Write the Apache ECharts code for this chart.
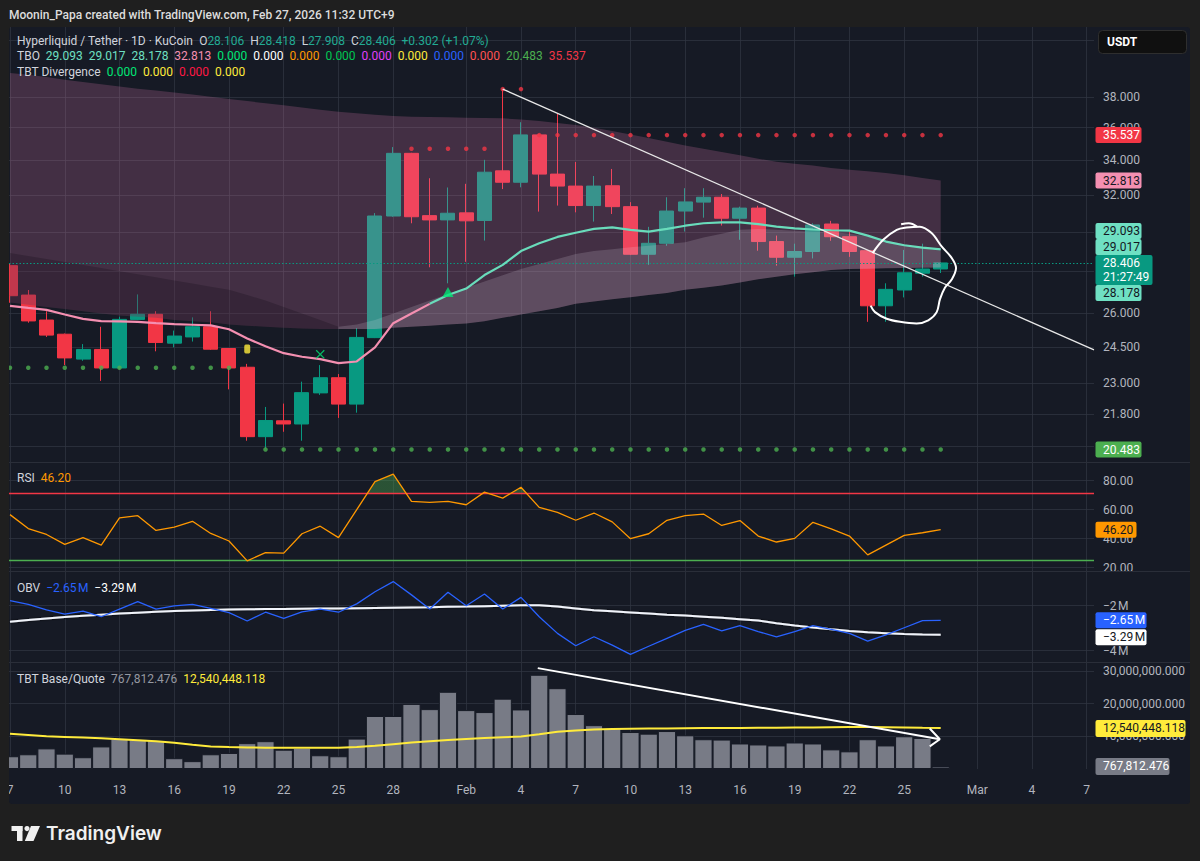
<!DOCTYPE html>
<html><head><meta charset="utf-8">
<script src="https://cdn.jsdelivr.net/npm/echarts@6/dist/echarts.min.js"></script>
<style>
html,body{margin:0;padding:0;background:#1f1f1f;width:1200px;height:861px;overflow:hidden;}
#panel{position:absolute;left:9px;top:27px;width:1181px;height:777px;background:#161a25;border-radius:3px;}
#chart{position:absolute;left:0;top:0;width:1200px;height:861px;}
</style></head><body>
<div id="panel"></div>
<div id="chart"></div>
<script>
// ---------- tick labels ----------
const xTickDays   = [0,3,6,9,12,15,18,21,25,28,31,34,37,40,43,46,49,53,56,59];
const xTickLabels = ['7','10','13','16','19','22','25','28','Feb','4','7','10','13','16','19','22','25','Mar','4','7'];
const priceGridTicks  = [42,38,36,34,32,30,28,26,24.5,23,21.8,20.6];
const priceLabelTicks = [38,36,34,32,26,24.5,23,21.8];
const rsiTicks    = [20,40,60,80];
const obvTicks    = [-2,-4];
const volTicks    = [10,20,30];

// ---------- candles (day 0 = Jan 7 ... day 51 = Feb 27) ----------
const open  = [28.27,26.85,25.70,25.07,24.00,24.41,23.63,25.73,25.96,24.68,24.95,25.40,24.45,23.66,20.95,21.54,21.42,22.62,23.23,22.18,24.92,30.84,34.42,30.86,30.63,31.01,30.60,33.38,32.72,35.55,33.19,32.50,31.41,32.52,31.35,28.84,29.40,31.11,31.60,31.87,30.72,31.27,29.49,28.69,28.98,30.41,29.74,29.02,26.35,27.09,27.90,28.106];
const close = [26.82,25.66,25.03,24.05,24.41,23.63,25.73,25.96,24.71,24.99,25.40,24.42,23.63,20.95,21.55,21.42,22.63,23.23,22.18,24.93,30.84,34.42,30.80,30.63,30.99,30.58,33.30,32.72,35.55,33.19,32.50,31.41,32.50,31.35,28.84,29.40,31.11,31.61,31.87,30.72,31.27,29.49,28.69,28.98,30.36,29.74,28.98,26.35,27.12,27.92,28.104,28.406];
const low   = [26.49,25.58,24.95,23.75,23.93,23.10,23.60,25.70,24.33,24.50,24.75,24.39,22.76,20.80,20.52,21.13,20.80,22.54,21.65,21.85,24.90,30.80,30.45,28.19,27.41,28.46,29.54,32.33,32.43,31.08,31.41,31.04,30.54,30.95,28.80,28.31,29.27,30.01,30.75,30.33,29.58,29.02,28.27,27.73,28.63,29.53,28.71,25.62,25.62,26.74,27.73,27.908];
const high  = [28.40,27.09,26.10,25.10,24.64,25.40,25.85,26.88,26.10,25.23,25.82,26.10,24.45,23.80,22.07,22.20,23.07,23.75,23.38,25.33,31.00,34.80,34.45,32.95,32.42,32.63,34.03,38.52,36.35,35.60,36.88,33.90,33.08,33.49,31.60,30.26,31.87,32.38,32.38,32.05,31.35,31.40,29.80,29.38,30.45,30.58,30.01,29.05,27.41,29.06,29.38,28.418];

// ---------- TBO lines ----------
const fastLine   = [26.35,26.25,26.16,25.95,25.75,25.65,25.64,25.62,25.56,25.52,25.49,25.46,25.29,24.88,24.55,24.25,24.10,24.00,23.83,23.90,24.50,25.56,26.00,26.44,26.85,27.16,27.81,28.31,29.00,29.40,29.73,29.95,30.15,30.23,30.10,30.01,30.15,30.32,30.45,30.50,30.50,30.40,30.27,30.18,30.12,30.08,30.06,29.80,29.49,29.30,29.18,29.093];
const mediumLine = [28.90,28.75,28.60,28.45,28.30,28.15,28.00,27.85,27.70,27.55,27.40,27.25,27.10,26.85,26.60,26.30,26.00,25.70,25.40,25.50,25.70,26.00,26.30,26.60,26.90,27.20,27.50,27.80,28.10,28.35,28.60,28.85,29.00,29.10,29.20,29.28,29.36,29.45,29.70,29.90,30.10,30.15,30.10,30.05,30.00,30.00,29.90,29.75,29.55,29.35,29.15,29.017];
const slowLine   = [26.50,26.40,26.30,26.20,26.10,26.00,25.90,25.85,25.80,25.70,25.65,25.60,25.50,25.45,25.40,25.35,25.32,25.30,25.30,25.30,25.30,25.35,25.40,25.45,25.50,25.55,25.65,25.80,25.95,26.10,26.25,26.45,26.55,26.65,26.75,26.85,26.95,27.10,27.20,27.30,27.45,27.60,27.73,27.85,27.95,28.06,28.10,28.12,28.14,28.15,28.17,28.178];
const longLine   = [39.63,39.50,39.35,39.15,39.00,38.85,38.70,38.55,38.42,38.30,38.16,38.00,37.86,37.72,37.58,37.45,37.30,37.16,37.03,36.93,36.83,36.75,36.70,36.68,36.66,36.64,36.62,36.60,36.52,36.42,36.30,36.18,36.00,35.80,35.57,35.35,35.13,34.90,34.70,34.50,34.30,34.10,33.91,33.80,33.70,33.55,33.45,33.35,33.25,33.12,32.97,32.813];
const resistanceDots = [null,null,null,null,null,null,null,null,null,null,null,null,null,null,null,null,null,null,null,null,null,null,34.70,34.70,34.70,34.70,34.70,38.52,38.52,35.537,35.537,35.537,35.537,35.537,35.537,35.537,35.537,35.537,35.537,35.537,35.537,35.537,35.537,35.537,35.537,35.537,35.537,35.537,35.537,35.537,35.537,35.537];
const supportDots    = [23.64,23.64,23.64,23.64,23.64,23.64,23.64,23.64,23.64,23.64,23.64,23.64,23.64,null,20.483,20.483,20.483,20.483,20.483,20.483,20.483,20.483,20.483,20.483,20.483,20.483,20.483,20.483,20.483,20.483,20.483,20.483,20.483,20.483,20.483,20.483,20.483,20.483,20.483,20.483,20.483,20.483,20.483,20.483,20.483,20.483,20.483,20.483,20.483,20.483,20.483,20.483];
const signalYellow   = [[13, 24.43]];
const signalCross    = [[17, 24.20]];
const signalTriangle = [[24, 27.00]];

// ---------- drawings ----------
const trendLine   = [[27, 38.52],[59.4, 24.39]];
const circleStroke = [[47.27,28.90],[47.85,29.58],[48.59,30.10],[49.13,30.22],[49.86,30.27],[50.5,29.93],[51.05,29.24],[51.6,28.66],[51.84,28.16],[51.6,27.59],[51.23,27.20],[50.96,26.66],[50.78,26.06],[50.32,25.69],[49.68,25.55],[48.77,25.62],[48.04,25.76],[47.4,26.06],[47.16,26.36]];
const circleFlick  = [[48.83,30.40],[49.25,30.45],[49.70,30.28]];
const volArrow     = [[28.92,30.83],[50.95,9.08]];
const volArrowHead = [[50.40,12.37],[50.95,9.08],[50.40,6.92]];

// ---------- RSI / OBV / Volume ----------
const rsi   = [56.6,47.0,42.9,36.1,40.7,35.6,54.3,55.9,45.7,47.9,52.0,43.6,38.4,24.7,30.4,30.0,43.4,48.6,40.7,60.0,79.3,84.6,65.7,65.0,65.7,63.4,72.1,68.0,75.5,61.6,58.2,52.7,57.7,51.6,40.0,43.4,52.7,55.9,57.0,49.1,52.5,41.8,37.7,40.2,51.3,46.8,41.8,28.8,35.6,42.3,44.1,46.2];
const rsiUpper = 71, rsiLower = 25;
const obv   = [-1.78,-1.94,-2.19,-2.37,-2.24,-2.49,-2.15,-1.82,-2.15,-2.01,-1.94,-2.12,-2.31,-2.68,-2.29,-2.56,-2.27,-2.15,-2.29,-1.92,-1.38,-0.93,-1.52,-2.15,-1.40,-2.00,-1.48,-2.15,-1.63,-2.49,-3.23,-3.78,-3.38,-3.75,-4.16,-3.80,-3.45,-3.10,-2.83,-3.12,-2.89,-3.15,-3.38,-3.15,-2.89,-3.05,-3.23,-3.57,-3.30,-2.98,-2.66,-2.65];
const obvMA = [-2.71,-2.64,-2.57,-2.50,-2.45,-2.40,-2.35,-2.31,-2.27,-2.24,-2.21,-2.19,-2.17,-2.16,-2.15,-2.15,-2.14,-2.13,-2.12,-2.11,-2.10,-2.09,-2.08,-2.07,-2.05,-2.04,-2.02,-2.00,-1.98,-1.98,-2.04,-2.12,-2.20,-2.25,-2.30,-2.35,-2.40,-2.44,-2.49,-2.54,-2.60,-2.66,-2.78,-2.88,-2.97,-3.05,-3.12,-3.18,-3.22,-3.26,-3.28,-3.29];
const volume   = [3.9,4.5,6.3,4.7,3.6,6.9,9.3,9.1,8.8,3.3,2.4,4.5,4.9,7.9,8.5,5.9,6.5,4.2,3.9,9.3,16.2,16.2,19.9,18.3,23.6,18.0,17.4,21.5,18.2,28.8,24.7,16.8,13.4,12.4,11.3,10.8,11.6,10.3,9.1,9.0,7.8,7.5,7.2,8.1,7.8,6.0,5.4,9.1,7.2,10.0,9.5,0.767812476];
const volumeMA = [10.8,10.4,10.0,9.8,9.6,9.4,9.1,8.8,8.5,8.0,7.4,6.9,6.7,6.6,6.5,6.5,6.5,6.5,6.5,6.7,7.1,7.6,8.1,8.5,8.9,9.2,9.5,9.7,9.9,10.6,11.4,11.8,12.1,12.25,12.3,12.35,12.4,12.45,12.5,12.5,12.55,12.6,12.6,12.65,12.7,12.75,12.8,12.8,12.75,12.7,12.6,12.540448118];

// ---------- style ----------
const FONT = 'Roboto, "Noto Sans", sans-serif';
const GRID = 'rgba(48,53,66,0.75)';
const AXT = '#b2b5be';
const UP = '#089981', DOWN = '#f23645';
const X_MIN = -0.055, X_MAX = 59.4;

const pairs = arr => arr.map((v, i) => [i, v]);
const fmtVol = v => (v * 1e6).toLocaleString('en-US', {minimumFractionDigits: 3, maximumFractionDigits: 3});
const fmtM = v => (v < 0 ? '\u2212' : '') + Math.abs(v).toFixed(2) + '\u202FM';

const chart = echarts.init(document.getElementById('chart'), null, {renderer: 'svg'});

const grids = [
  {left: 9, right: 106, top: 27, height: 435},
  {left: 9, right: 106, top: 462, height: 109},
  {left: 9, right: 106, top: 571, height: 91},
  {left: 9, right: 106, top: 662, height: 107}
];
const xAxes = grids.map((g, i) => ({
  type: 'value', gridIndex: i, min: X_MIN, max: X_MAX,
  axisLine: {show: false},
  axisTick: {show: false, customValues: xTickDays},
  splitLine: {show: true, lineStyle: {color: GRID, width: 1}},
  axisLabel: {show: i === 3, customValues: xTickDays, color: AXT, fontSize: 12, fontFamily: FONT, margin: 15,
    formatter: v => xTickLabels[xTickDays.indexOf(Math.round(v))]}
}));
const yBase = {position: 'right', axisLine: {show: false},
  splitLine: {show: true, lineStyle: {color: GRID, width: 1}}};
const yAxes = [
  Object.assign({type: 'log', gridIndex: 0, min: 20.04, max: 42.95,
    axisTick: {show: false, customValues: priceGridTicks},
    axisLabel: {customValues: priceLabelTicks, color: AXT, fontSize: 12, fontFamily: FONT, margin: 9, formatter: v => Number(v).toFixed(3)}}, yBase),
  Object.assign({type: 'value', gridIndex: 1, min: 17.7, max: 92.9,
    axisTick: {show: false, customValues: rsiTicks},
    axisLabel: {customValues: rsiTicks, color: AXT, fontSize: 12, fontFamily: FONT, margin: 9, formatter: v => Number(v).toFixed(2)}}, yBase),
  Object.assign({type: 'value', gridIndex: 2, min: -4.5, max: -0.46,
    axisTick: {show: false, customValues: obvTicks},
    axisLabel: {customValues: obvTicks, color: AXT, fontSize: 12, fontFamily: FONT, margin: 9, formatter: v => '\u2212' + Math.abs(v) + '\u202FM'}}, yBase),
  Object.assign({type: 'value', gridIndex: 3, min: 0, max: 32.7,
    axisTick: {show: false, customValues: volTicks},
    axisLabel: {customValues: volTicks, color: AXT, fontSize: 12, fontFamily: FONT, margin: 9, formatter: v => fmtVol(v)}}, yBase)
];

// filled band between two lines, drawn through the axis scales
function band(upper, lower, from, to, color, z) {
  return {type: 'custom', xAxisIndex: 0, yAxisIndex: 0, z: z, silent: true,
    data: [[from, upper[from]]],
    renderItem: (params, api) => {
      const pts = [];
      for (let i = from; i <= to; i++) pts.push(api.coord([i, upper[i]]));
      for (let i = to; i >= from; i--) pts.push(api.coord([i, lower[i]]));
      return {type: 'polygon', shape: {points: pts}, style: {fill: color}};
    }};
}

const seriesList = [];
// candles
seriesList.push({type: 'candlestick', xAxisIndex: 0, yAxisIndex: 0, z: 2, barWidth: 14.5,
  encode: {x: 0, y: [1, 2, 3, 4]},
  data: open.map((o, i) => [i, o, close[i], low[i], high[i]]),
  itemStyle: {color: UP, color0: DOWN, borderColor: UP, borderColor0: DOWN, borderWidth: 1}});
// TBO cloud (over candles, translucent)
const last = close.length - 1;
const splitDay = 18;
seriesList.push(band(longLine, slowLine, 0, last, 'rgba(236,128,186,0.21)', 3));
seriesList.push(band(mediumLine, slowLine, 0, splitDay, 'rgba(5,0,12,0.2)', 3));
seriesList.push(band(mediumLine, slowLine, splitDay, last, 'rgba(235,228,240,0.16)', 3));
// fast line pink / teal
const colorSwitch = 23;
seriesList.push({type: 'line', xAxisIndex: 0, yAxisIndex: 0, z: 5, symbol: 'none', silent: true,
  data: pairs(fastLine).slice(0, colorSwitch + 1), lineStyle: {color: '#f48fb1', width: 2.2}});
seriesList.push({type: 'line', xAxisIndex: 0, yAxisIndex: 0, z: 5, symbol: 'none', silent: true,
  data: pairs(fastLine).slice(colorSwitch), lineStyle: {color: '#69dcbb', width: 2.2},
  markLine: {silent: true, symbol: ['none', 'none'], label: {show: false},
    lineStyle: {color: '#089981', type: [1.5, 2], width: 1}, data: [{yAxis: close[last]}]}});
// dots
seriesList.push({type: 'scatter', xAxisIndex: 0, yAxisIndex: 0, z: 5, symbolSize: 4.5, silent: true,
  data: pairs(resistanceDots).filter(p => p[1] != null), itemStyle: {color: '#f23645'}});
seriesList.push({type: 'scatter', xAxisIndex: 0, yAxisIndex: 0, z: 5, symbolSize: 4.5, silent: true,
  data: pairs(supportDots).filter(p => p[1] != null), itemStyle: {color: '#4caf50'}});
// signals
seriesList.push({type: 'scatter', xAxisIndex: 0, yAxisIndex: 0, z: 6, symbol: 'roundRect', symbolSize: [6, 9], silent: true,
  data: signalYellow, itemStyle: {color: '#ffeb3b'}});
seriesList.push({type: 'scatter', xAxisIndex: 0, yAxisIndex: 0, z: 6, silent: true,
  symbol: 'path://M1,0 L5,4 L9,0 L10,1 L6,5 L10,9 L9,10 L5,6 L1,10 L0,9 L4,5 L0,1 Z', symbolSize: 9,
  data: signalCross, itemStyle: {color: '#00e676'}});
seriesList.push({type: 'scatter', xAxisIndex: 0, yAxisIndex: 0, z: 6, symbol: 'triangle', symbolSize: [11, 10], silent: true,
  data: signalTriangle, itemStyle: {color: '#00e676'}});
// drawings
seriesList.push({type: 'line', xAxisIndex: 0, yAxisIndex: 0, z: 7, symbol: 'none', silent: true,
  data: trendLine, lineStyle: {color: '#e8e8e8', width: 1.3}});
seriesList.push({type: 'line', xAxisIndex: 0, yAxisIndex: 0, z: 7, symbol: 'none', silent: true, smooth: 0.35,
  data: circleStroke, lineStyle: {color: '#ffffff', width: 2}});
seriesList.push({type: 'line', xAxisIndex: 0, yAxisIndex: 0, z: 7, symbol: 'none', silent: true, smooth: 0.4,
  data: circleFlick, lineStyle: {color: '#ffffff', width: 2}});
// RSI
seriesList.push({type: 'line', xAxisIndex: 1, yAxisIndex: 1, z: 5, symbol: 'none', silent: true,
  data: pairs(rsi), lineStyle: {color: '#ff9800', width: 1.3},
  markLine: {silent: true, symbol: ['none', 'none'], label: {show: false}, lineStyle: {type: 'solid', width: 1.3},
    data: [{yAxis: rsiUpper, lineStyle: {color: '#f23645'}}, {yAxis: rsiLower, lineStyle: {color: '#4caf50'}}]}});
const rsiFillIndex = seriesList.length;
seriesList.push({type: 'line', xAxisIndex: 1, yAxisIndex: 1, z: 3, symbol: 'none', silent: true,
  data: pairs(rsi), lineStyle: {opacity: 0}, areaStyle: {origin: rsiUpper, opacity: 1}});
// OBV
seriesList.push({type: 'line', xAxisIndex: 2, yAxisIndex: 2, z: 5, symbol: 'none', silent: true,
  data: pairs(obv), lineStyle: {color: '#2962ff', width: 1.3}});
seriesList.push({type: 'line', xAxisIndex: 2, yAxisIndex: 2, z: 4, symbol: 'none', silent: true,
  data: pairs(obvMA), lineStyle: {color: '#f0f3fa', width: 2, shadowColor: 'rgba(0,0,0,0.8)', shadowBlur: 2}});
// Volume
seriesList.push({type: 'bar', xAxisIndex: 3, yAxisIndex: 3, z: 2, barWidth: 18.25, silent: true,
  data: pairs(volume), itemStyle: {color: '#787b86', borderColor: '#161a25', borderWidth: 1}});
seriesList.push({type: 'line', xAxisIndex: 3, yAxisIndex: 3, z: 5, symbol: 'none', silent: true,
  data: pairs(volumeMA), lineStyle: {color: '#ffeb3b', width: 2}});
seriesList.push({type: 'line', xAxisIndex: 3, yAxisIndex: 3, z: 6, symbol: 'none', silent: true,
  data: volArrow, lineStyle: {color: '#ffffff', width: 2}});
seriesList.push({type: 'line', xAxisIndex: 3, yAxisIndex: 3, z: 6, symbol: 'none', silent: true,
  data: volArrowHead, lineStyle: {color: '#ffffff', width: 2}});

chart.setOption({
  animation: false,
  backgroundColor: 'transparent',
  textStyle: {fontFamily: FONT},
  grid: grids,
  xAxis: xAxes,
  yAxis: yAxes,
  visualMap: [{type: 'piecewise', show: false, seriesIndex: rsiFillIndex, dimension: 1,
    pieces: [{gt: rsiUpper, color: 'rgba(76,175,80,0.38)'},
             {gte: rsiLower, lte: rsiUpper, color: 'rgba(0,0,0,0)'},
             {lt: rsiLower, color: 'rgba(242,54,69,0.35)'}]}],
  series: seriesList
});

// ---------- overlays: legends, tags ----------
function txt(x, y, text, rich, extra) {
  return Object.assign({type: 'text', x: x, y: y, z: 100, silent: true,
    style: {text: text, rich: rich || {}, fill: '#d1d4dc', font: '12px ' + FONT,
      align: 'left', textAlign: 'left', verticalAlign: 'middle', textVerticalAlign: 'middle'}}, extra || {});
}
function R(c, w) { return {fill: c, color: c, fontSize: 12, fontFamily: FONT, fontWeight: w || 'normal'}; }

const G = [];
// frame mask left of the panel (hides overflow of the first, half-visible day)
G.push({type: 'rect', z: 95, silent: true, shape: {x: 0, y: 27, width: 9, height: 777}, style: {fill: '#1f1f1f'}});
// pane separators
[462, 571, 662].forEach(y => G.push({type: 'line', z: 90, silent: true,
  shape: {x1: 9, y1: y + 0.5, x2: 1190, y2: y + 0.5}, style: {stroke: '#2a2e39', lineWidth: 1}}));
// header
G.push(txt(9, 15, '', null,
  {style: {text: 'Moonin_Papa created with TradingView.com, Feb 27, 2026 11:32 UTC+9', fill: '#dcdcdc', font: '500 12px ' + FONT, verticalAlign: 'middle', textVerticalAlign: 'middle'}}));
// legend lines
const chg = close[last] - close[last - 1];
const pct = chg / close[last - 1] * 100;
G.push(txt(17, 41,
  '{t|Hyperliquid / Tether · 1D · KuCoin}  {l|O}{v|' + open[last].toFixed(3) + '}  {l|H}{v|' + high[last].toFixed(3) +
  '}  {l|L}{v|' + low[last].toFixed(3) + '}  {l|C}{v|' + close[last].toFixed(3) + '}  {v|+' + chg.toFixed(3) + ' (+' + pct.toFixed(2) + '%)}',
  {t: R('#d1d4dc'), l: R('#d1d4dc'), v: R('#22ab94')}));
G.push(txt(17, 56,
  '{l|TBO}  {a|' + fastLine[last].toFixed(3) + '}  {a|' + mediumLine[last].toFixed(3) + '}  {a|' + slowLine[last].toFixed(3) +
  '}  {p|' + longLine[last].toFixed(3) + '}  {g1|0.000}  {w|0.000}  {o|0.000}  {g2|0.000}  {m|0.000}  {y|0.000}  {b|0.000}  {r|0.000}  {g3|' +
  supportDots[last].toFixed(3) + '}  {r2|' + resistanceDots[last].toFixed(3) + '}',
  {l: R('#d1d4dc'), a: R('#6fe0c3'), p: R('#f48fb1'), g1: R('#00e676'), w: R('#ffffff'), o: R('#ff9800'), g2: R('#00c853'),
   m: R('#e040fb'), y: R('#ffeb3b'), b: R('#2962ff'), r: R('#ff5252'), g3: R('#4caf50'), r2: R('#f23645')}));
G.push(txt(17, 71.5, '{l|TBT Divergence}  {g|0.000}  {y|0.000}  {r|0.000}  {y|0.000}',
  {l: R('#d1d4dc'), g: R('#00e676'), y: R('#ffeb3b'), r: R('#ff1744')}));
G.push(txt(17, 477.5, '{l|RSI}  {o|' + rsi[last].toFixed(2) + '}', {l: R('#d1d4dc'), o: R('#ff9800')}));
G.push(txt(17, 587.5, '{l|OBV}  {b|' + fmtM(obv[last]) + '}  {w|' + fmtM(obvMA[last]) + '}',
  {l: R('#d1d4dc'), b: R('#2962ff'), w: R('#ffffff')}));
G.push(txt(17, 678.5, '{l|TBT Base/Quote}  {g|' + fmtVol(volume[last]) + '}  {y|' + fmtVol(volumeMA[last]) + '}',
  {l: R('#d1d4dc'), g: R('#9598a1'), y: R('#ffeb3b')}));
// USDT box
G.push({type: 'rect', z: 100, silent: true, shape: {x: 1098.5, y: 30.5, width: 88, height: 23, r: 4},
  style: {fill: '#101010', stroke: '#2e2e2e', lineWidth: 1}});
G.push(txt(1107, 42, '', null, {style: {text: 'USDT', fill: '#ffffff', font: 'bold 12px ' + FONT, verticalAlign: 'middle', textVerticalAlign: 'middle'}}));
// TradingView logo
G.push({type: 'rect', z: 100, silent: true, shape: {x: 11.5, y: 826, width: 11, height: 5}, style: {fill: '#f0f0f0'}});
G.push({type: 'rect', z: 100, silent: true, shape: {x: 17, y: 826, width: 5.5, height: 15}, style: {fill: '#f0f0f0'}});
G.push({type: 'circle', z: 100, silent: true, shape: {cx: 27, cy: 828.6, r: 2.6}, style: {fill: '#f0f0f0'}});
G.push({type: 'polygon', z: 100, silent: true, shape: {points: [[31, 826], [40, 826], [33.5, 841], [24.8, 841]]}, style: {fill: '#f0f0f0'}});
G.push(txt(46, 833.5, '', null, {style: {text: 'TradingView', fill: '#f0f0f0', font: '600 19px Inter, ' + FONT, verticalAlign: 'middle', textVerticalAlign: 'middle'}}));

// price tags (positions from the library's scales, de-overlapped like TradingView)
function yPix(grid, v) { return chart.convertToPixel({gridIndex: grid}, [0, v])[1]; }
function tag(y, w, h, bg, fg, text) {
  G.push({type: 'rect', z: 110, silent: true, shape: {x: 1095.5, y: y, width: w, height: h, r: 2}, style: {fill: bg}});
  G.push({type: 'text', z: 111, silent: true, x: 1103, y: y + h / 2,
    style: {text: text, fill: fg, font: '12px ' + FONT, lineHeight: 14, align: 'left', textAlign: 'left', verticalAlign: 'middle', textVerticalAlign: 'middle'}});
}
const H1 = 16;
const cur = {v: close[last], y: yPix(0, close[last])};
const curTop = cur.y - 8, curH = 30;
const mainTags = [
  {v: resistanceDots[last], bg: '#f23645', fg: '#ffffff'},
  {v: longLine[last], bg: '#f48fb1', fg: '#131722'},
  {v: fastLine[last], bg: '#6fe0c3', fg: '#131722'},
  {v: mediumLine[last], bg: '#6fe0c3', fg: '#131722'},
  {v: slowLine[last], bg: '#6fe0c3', fg: '#131722'},
  {v: supportDots[last], bg: '#4caf50', fg: '#ffffff'}
];
const above = mainTags.filter(t => t.v > cur.v).sort((a, b) => a.v - b.v);
const below = mainTags.filter(t => t.v < cur.v).sort((a, b) => b.v - a.v);
let edge = curTop;
above.forEach(t => { let top = yPix(0, t.v) - H1 / 2; top = Math.min(top, edge - H1); edge = top; tag(top, 46, H1, t.bg, t.fg, t.v.toFixed(3)); });
edge = curTop + curH;
below.forEach(t => { let top = yPix(0, t.v) - H1 / 2; top = Math.max(top, edge); edge = top + H1; tag(top, 46, H1, t.bg, t.fg, t.v.toFixed(3)); });
tag(curTop, 57, curH, '#089981', '#ffffff', cur.v.toFixed(3) + '\n21:27:49');
// RSI tag
tag(yPix(1, rsi[last]) - 8, 41, H1, '#ff9800', '#131722', rsi[last].toFixed(2));
// OBV tags
const obT = yPix(2, obv[last]) - 8;
tag(obT, 51, H1, '#2962ff', '#ffffff', fmtM(obv[last]));
const omT = Math.max(yPix(2, obvMA[last]) - 8, obT + H1 + 1);
tag(omT, 51, H1, '#ffffff', '#131722', fmtM(obvMA[last]));
// Volume tags
tag(yPix(3, volumeMA[last]) - 8, 90, H1 + 1, '#ffeb3b', '#131722', fmtVol(volumeMA[last]));
tag(yPix(3, volume[last]) - 8.5, 74, H1 + 1, '#787b86', '#ffffff', fmtVol(volume[last]));

chart.setOption({graphic: G});
</script>
</body></html>
